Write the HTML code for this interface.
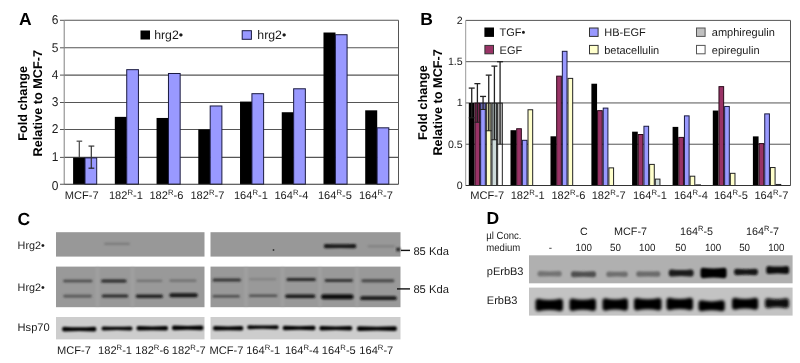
<!DOCTYPE html>
<html><head><meta charset="utf-8"><style>
html,body{margin:0;padding:0;background:#fff;}
svg{display:block;font-family:"Liberation Sans", sans-serif;}
text{opacity:0.999;text-rendering:geometricPrecision;}
</style></head><body>
<svg width="800" height="363" viewBox="0 0 800 363">
<defs>
<filter id="bb" x="-20%" y="-200%" width="140%" height="500%"><feGaussianBlur stdDeviation="0.9"/></filter>
<filter id="bb2" x="-20%" y="-100%" width="140%" height="300%"><feGaussianBlur stdDeviation="1.2"/></filter>
<filter id="bb3" x="-20%" y="-100%" width="140%" height="300%"><feGaussianBlur stdDeviation="1.6"/></filter>
<filter id="bl1" x="-5%" y="-5%" width="110%" height="110%"><feGaussianBlur stdDeviation="0.4"/></filter>
</defs>
<rect width="800" height="363" fill="#fff"/>
<text x="19.00" y="25.20" font-size="17.5" text-anchor="start" font-weight="bold" fill="#000" >A</text>
<line x1="64.20" y1="157.40" x2="398.50" y2="157.40" stroke="#555" stroke-width="1.1"/>
<line x1="60.00" y1="157.40" x2="64.20" y2="157.40" stroke="#555" stroke-width="1"/>
<line x1="64.20" y1="129.50" x2="398.50" y2="129.50" stroke="#555" stroke-width="1.1"/>
<line x1="60.00" y1="129.50" x2="64.20" y2="129.50" stroke="#555" stroke-width="1"/>
<line x1="64.20" y1="102.50" x2="398.50" y2="102.50" stroke="#555" stroke-width="1.1"/>
<line x1="60.00" y1="102.50" x2="64.20" y2="102.50" stroke="#555" stroke-width="1"/>
<line x1="64.20" y1="75.10" x2="398.50" y2="75.10" stroke="#555" stroke-width="1.1"/>
<line x1="60.00" y1="75.10" x2="64.20" y2="75.10" stroke="#555" stroke-width="1"/>
<line x1="64.20" y1="47.80" x2="398.50" y2="47.80" stroke="#555" stroke-width="1.1"/>
<line x1="60.00" y1="47.80" x2="64.20" y2="47.80" stroke="#555" stroke-width="1"/>
<line x1="64.20" y1="20.30" x2="398.50" y2="20.30" stroke="#555" stroke-width="1.1"/>
<line x1="60.00" y1="20.30" x2="64.20" y2="20.30" stroke="#555" stroke-width="1"/>
<line x1="60.00" y1="184.25" x2="64.20" y2="184.25" stroke="#555" stroke-width="1"/>
<line x1="398.50" y1="20.30" x2="398.50" y2="184.25" stroke="#555" stroke-width="1"/>
<text x="58.30" y="189.85" font-size="12.8" text-anchor="end" font-weight="normal" fill="#1a1a1a" textLength="6.67" lengthAdjust="spacingAndGlyphs">0</text>
<text x="58.30" y="161.20" font-size="12.8" text-anchor="end" font-weight="normal" fill="#1a1a1a" textLength="6.67" lengthAdjust="spacingAndGlyphs">1</text>
<text x="58.30" y="133.30" font-size="12.8" text-anchor="end" font-weight="normal" fill="#1a1a1a" textLength="6.67" lengthAdjust="spacingAndGlyphs">2</text>
<text x="58.30" y="106.30" font-size="12.8" text-anchor="end" font-weight="normal" fill="#1a1a1a" textLength="6.67" lengthAdjust="spacingAndGlyphs">3</text>
<text x="58.30" y="78.90" font-size="12.8" text-anchor="end" font-weight="normal" fill="#1a1a1a" textLength="6.67" lengthAdjust="spacingAndGlyphs">4</text>
<text x="58.30" y="51.60" font-size="12.8" text-anchor="end" font-weight="normal" fill="#1a1a1a" textLength="6.67" lengthAdjust="spacingAndGlyphs">5</text>
<text x="58.30" y="24.10" font-size="12.8" text-anchor="end" font-weight="normal" fill="#1a1a1a" textLength="6.67" lengthAdjust="spacingAndGlyphs">6</text>
<rect x="140.50" y="30.50" width="9.50" height="9.00" fill="#000" />
<text x="154.20" y="39.40" font-size="12.3" text-anchor="start" font-weight="normal" fill="#1a1a1a" >hrg2•</text>
<rect x="242.20" y="30.70" width="9.20" height="8.60" fill="#9999ff" stroke="#1a1a40" stroke-width="1" />
<text x="257.30" y="39.40" font-size="12.3" text-anchor="start" font-weight="normal" fill="#1a1a1a" >hrg2•</text>
<rect x="73.10" y="157.60" width="12.00" height="26.65" fill="#000" />
<rect x="85.00" y="157.90" width="11.70" height="26.35" fill="#9999ff" stroke="#1a1a40" stroke-width="1" />
<rect x="114.83" y="116.87" width="12.00" height="67.38" fill="#000" />
<rect x="126.73" y="69.67" width="11.70" height="114.58" fill="#9999ff" stroke="#1a1a40" stroke-width="1" />
<rect x="156.56" y="117.96" width="12.00" height="66.29" fill="#000" />
<rect x="168.46" y="73.49" width="11.70" height="110.76" fill="#9999ff" stroke="#1a1a40" stroke-width="1" />
<rect x="198.29" y="129.43" width="12.00" height="54.82" fill="#000" />
<rect x="210.19" y="105.98" width="11.70" height="78.27" fill="#9999ff" stroke="#1a1a40" stroke-width="1" />
<rect x="240.02" y="101.58" width="12.00" height="82.67" fill="#000" />
<rect x="251.92" y="93.69" width="11.70" height="90.56" fill="#9999ff" stroke="#1a1a40" stroke-width="1" />
<rect x="281.75" y="112.23" width="12.00" height="72.02" fill="#000" />
<rect x="293.65" y="88.78" width="11.70" height="95.47" fill="#9999ff" stroke="#1a1a40" stroke-width="1" />
<rect x="323.48" y="32.51" width="12.00" height="151.74" fill="#000" />
<rect x="335.38" y="34.72" width="11.70" height="149.53" fill="#9999ff" stroke="#1a1a40" stroke-width="1" />
<rect x="365.21" y="110.32" width="12.00" height="73.93" fill="#000" />
<rect x="377.11" y="127.82" width="11.70" height="56.43" fill="#9999ff" stroke="#1a1a40" stroke-width="1" />
<line x1="79.30" y1="141.17" x2="79.30" y2="157.00" stroke="#444" stroke-width="1.2"/>
<line x1="76.60" y1="141.17" x2="82.20" y2="141.17" stroke="#444" stroke-width="1.2"/>
<line x1="91.30" y1="146.08" x2="91.30" y2="168.19" stroke="#333" stroke-width="1.2"/>
<line x1="88.50" y1="146.08" x2="94.30" y2="146.08" stroke="#333" stroke-width="1.2"/>
<line x1="88.50" y1="168.19" x2="94.30" y2="168.19" stroke="#222" stroke-width="1.2"/>
<line x1="64.20" y1="20.30" x2="64.20" y2="184.25" stroke="#808080" stroke-width="1"/>
<line x1="64.20" y1="184.25" x2="398.50" y2="184.25" stroke="#333" stroke-width="1"/>
<text transform="translate(27.0,103.4) rotate(-90)" font-size="12.7" font-weight="bold" text-anchor="middle" fill="#000">Fold change</text>
<text transform="translate(41.8,103.2) rotate(-90)" font-size="12.7" font-weight="bold" text-anchor="middle" fill="#000">Relative to MCF-7</text>
<text x="64.80" y="199.00" font-size="11.1" text-anchor="start" font-weight="normal" fill="#1a1a1a" >MCF-7</text>
<text x="108.95" y="199.00" font-size="11.1" text-anchor="start" font-weight="normal" fill="#1a1a1a" >182<tspan font-size="7.7" dy="-4">R</tspan><tspan dy="4">-1</tspan></text>
<text x="149.45" y="199.00" font-size="11.1" text-anchor="start" font-weight="normal" fill="#1a1a1a" >182<tspan font-size="7.7" dy="-4">R</tspan><tspan dy="4">-6</tspan></text>
<text x="190.45" y="199.00" font-size="11.1" text-anchor="start" font-weight="normal" fill="#1a1a1a" >182<tspan font-size="7.7" dy="-4">R</tspan><tspan dy="4">-7</tspan></text>
<text x="233.95" y="199.00" font-size="11.1" text-anchor="start" font-weight="normal" fill="#1a1a1a" >164<tspan font-size="7.7" dy="-4">R</tspan><tspan dy="4">-1</tspan></text>
<text x="274.45" y="199.00" font-size="11.1" text-anchor="start" font-weight="normal" fill="#1a1a1a" >164<tspan font-size="7.7" dy="-4">R</tspan><tspan dy="4">-4</tspan></text>
<text x="317.95" y="199.00" font-size="11.1" text-anchor="start" font-weight="normal" fill="#1a1a1a" >164<tspan font-size="7.7" dy="-4">R</tspan><tspan dy="4">-5</tspan></text>
<text x="358.95" y="199.00" font-size="11.1" text-anchor="start" font-weight="normal" fill="#1a1a1a" >164<tspan font-size="7.7" dy="-4">R</tspan><tspan dy="4">-7</tspan></text>
<text x="420.30" y="25.20" font-size="17.5" text-anchor="start" font-weight="bold" fill="#000" >B</text>
<line x1="465.70" y1="144.22" x2="790.50" y2="144.22" stroke="#555" stroke-width="1"/>
<line x1="465.70" y1="102.95" x2="790.50" y2="102.95" stroke="#555" stroke-width="1"/>
<line x1="465.70" y1="61.68" x2="790.50" y2="61.68" stroke="#555" stroke-width="1"/>
<line x1="465.70" y1="20.40" x2="790.50" y2="20.40" stroke="#555" stroke-width="1"/>
<line x1="790.50" y1="20.40" x2="790.50" y2="185.50" stroke="#555" stroke-width="1"/>
<text x="462.70" y="188.80" font-size="10.6" text-anchor="end" font-weight="normal" fill="#1a1a1a" >0</text>
<text x="462.70" y="147.53" font-size="10.6" text-anchor="end" font-weight="normal" fill="#1a1a1a" >0.5</text>
<text x="462.70" y="106.25" font-size="10.6" text-anchor="end" font-weight="normal" fill="#1a1a1a" >1</text>
<text x="462.70" y="64.98" font-size="10.6" text-anchor="end" font-weight="normal" fill="#1a1a1a" >1.5</text>
<text x="462.70" y="23.70" font-size="10.6" text-anchor="end" font-weight="normal" fill="#1a1a1a" >2</text>
<rect x="484.40" y="27.50" width="9.60" height="9.40" fill="#000" />
<text x="499.60" y="36.10" font-size="11" text-anchor="start" font-weight="normal" fill="#1a1a1a" >TGF•</text>
<rect x="484.90" y="45.40" width="8.60" height="8.40" fill="#993366" stroke="#333" stroke-width="1" />
<text x="499.60" y="53.50" font-size="11" text-anchor="start" font-weight="normal" fill="#1a1a1a" >EGF</text>
<rect x="589.50" y="28.00" width="8.60" height="8.40" fill="#9999ff" stroke="#333" stroke-width="1" />
<text x="604.20" y="36.10" font-size="11" text-anchor="start" font-weight="normal" fill="#1a1a1a" >HB-EGF</text>
<rect x="589.50" y="45.40" width="8.60" height="8.40" fill="#ffffcc" stroke="#333" stroke-width="1" />
<text x="604.20" y="53.50" font-size="11" text-anchor="start" font-weight="normal" fill="#1a1a1a" >betacellulin</text>
<rect x="696.50" y="28.00" width="8.60" height="8.40" fill="#c0c0c0" stroke="#555" stroke-width="1" />
<text x="711.80" y="36.10" font-size="11" text-anchor="start" font-weight="normal" fill="#1a1a1a" >amphiregulin</text>
<rect x="696.50" y="45.40" width="8.60" height="8.40" fill="#ffffff" stroke="#555" stroke-width="1" />
<text x="711.80" y="53.50" font-size="11" text-anchor="start" font-weight="normal" fill="#1a1a1a" >epiregulin</text>
<rect x="468.80" y="102.95" width="5.67" height="82.55" fill="#000" />
<rect x="474.97" y="103.15" width="4.67" height="82.35" fill="#993366" stroke="#2a0a1a" stroke-width="1" />
<rect x="480.64" y="103.15" width="4.67" height="82.35" fill="#9999ff" stroke="#1a1a40" stroke-width="1" />
<rect x="486.31" y="103.15" width="4.67" height="82.35" fill="#ffffcc" stroke="#222" stroke-width="1" />
<rect x="491.98" y="103.15" width="4.67" height="82.35" fill="#cddada" stroke="#222" stroke-width="1" />
<rect x="497.65" y="103.15" width="4.67" height="82.35" fill="#ffffff" stroke="#222" stroke-width="1" />
<rect x="510.50" y="130.19" width="5.67" height="55.31" fill="#000" />
<rect x="516.67" y="128.74" width="4.67" height="56.76" fill="#993366" stroke="#2a0a1a" stroke-width="1" />
<rect x="522.34" y="140.30" width="4.67" height="45.20" fill="#9999ff" stroke="#1a1a40" stroke-width="1" />
<rect x="528.01" y="109.75" width="4.67" height="75.75" fill="#ffffcc" stroke="#222" stroke-width="1" />
<rect x="550.50" y="136.30" width="5.67" height="49.20" fill="#000" />
<rect x="556.67" y="76.16" width="4.67" height="109.34" fill="#993366" stroke="#2a0a1a" stroke-width="1" />
<rect x="562.34" y="51.31" width="4.67" height="134.19" fill="#9999ff" stroke="#1a1a40" stroke-width="1" />
<rect x="568.01" y="78.39" width="4.67" height="107.11" fill="#ffffcc" stroke="#222" stroke-width="1" />
<rect x="591.40" y="83.72" width="5.67" height="101.78" fill="#000" />
<rect x="597.57" y="110.66" width="4.67" height="74.84" fill="#993366" stroke="#2a0a1a" stroke-width="1" />
<rect x="603.24" y="108.10" width="4.67" height="77.40" fill="#9999ff" stroke="#1a1a40" stroke-width="1" />
<rect x="608.91" y="167.87" width="4.67" height="17.63" fill="#ffffcc" stroke="#222" stroke-width="1" />
<rect x="632.10" y="131.68" width="5.67" height="53.82" fill="#000" />
<rect x="638.27" y="134.52" width="4.67" height="50.98" fill="#993366" stroke="#2a0a1a" stroke-width="1" />
<rect x="643.94" y="126.26" width="4.67" height="59.24" fill="#9999ff" stroke="#1a1a40" stroke-width="1" />
<rect x="649.61" y="164.40" width="4.67" height="21.10" fill="#ffffcc" stroke="#222" stroke-width="1" />
<rect x="655.28" y="179.10" width="4.67" height="6.40" fill="#cddada" stroke="#222" stroke-width="1" />
<rect x="672.60" y="126.89" width="5.67" height="58.61" fill="#000" />
<rect x="678.77" y="137.41" width="4.67" height="48.09" fill="#993366" stroke="#2a0a1a" stroke-width="1" />
<rect x="684.44" y="115.86" width="4.67" height="69.64" fill="#9999ff" stroke="#1a1a40" stroke-width="1" />
<rect x="690.11" y="176.21" width="4.67" height="9.29" fill="#ffffcc" stroke="#222" stroke-width="1" />
<rect x="695.78" y="184.87" width="4.67" height="0.63" fill="#cddada" stroke="#222" stroke-width="1" />
<rect x="712.80" y="110.54" width="5.67" height="74.96" fill="#000" />
<rect x="718.97" y="86.64" width="4.67" height="98.86" fill="#993366" stroke="#2a0a1a" stroke-width="1" />
<rect x="724.64" y="106.45" width="4.67" height="79.05" fill="#9999ff" stroke="#1a1a40" stroke-width="1" />
<rect x="730.31" y="173.32" width="4.67" height="12.18" fill="#ffffcc" stroke="#222" stroke-width="1" />
<rect x="752.90" y="136.38" width="5.67" height="49.12" fill="#000" />
<rect x="759.07" y="143.60" width="4.67" height="41.90" fill="#993366" stroke="#2a0a1a" stroke-width="1" />
<rect x="764.74" y="113.88" width="4.67" height="71.62" fill="#9999ff" stroke="#1a1a40" stroke-width="1" />
<rect x="770.41" y="167.54" width="4.67" height="17.96" fill="#ffffcc" stroke="#222" stroke-width="1" />
<rect x="776.08" y="184.46" width="4.67" height="1.04" fill="#cddada" stroke="#222" stroke-width="1" />
<line x1="471.73" y1="88.09" x2="471.73" y2="117.81" stroke="#222" stroke-width="1.3"/>
<line x1="468.73" y1="88.09" x2="474.73" y2="88.09" stroke="#222" stroke-width="1.3"/>
<line x1="468.73" y1="117.81" x2="474.73" y2="117.81" stroke="#222" stroke-width="1.0"/>
<rect x="475.07" y="102.95" width="4.67" height="19.32" fill="#000" opacity="0.22"/>
<line x1="477.40" y1="83.63" x2="477.40" y2="122.27" stroke="#222" stroke-width="1.3"/>
<line x1="474.40" y1="83.63" x2="480.40" y2="83.63" stroke="#222" stroke-width="1.3"/>
<line x1="474.40" y1="122.27" x2="480.40" y2="122.27" stroke="#222" stroke-width="1.0"/>
<rect x="480.74" y="102.95" width="4.67" height="6.52" fill="#000" opacity="0.22"/>
<line x1="483.07" y1="96.43" x2="483.07" y2="109.47" stroke="#222" stroke-width="1.3"/>
<line x1="480.07" y1="96.43" x2="486.07" y2="96.43" stroke="#222" stroke-width="1.3"/>
<line x1="480.07" y1="109.47" x2="486.07" y2="109.47" stroke="#222" stroke-width="1.0"/>
<rect x="486.41" y="102.95" width="4.67" height="27.82" fill="#000" opacity="0.22"/>
<line x1="488.74" y1="75.13" x2="488.74" y2="130.77" stroke="#222" stroke-width="1.3"/>
<line x1="485.74" y1="75.13" x2="491.74" y2="75.13" stroke="#222" stroke-width="1.3"/>
<line x1="485.74" y1="130.77" x2="491.74" y2="130.77" stroke="#222" stroke-width="1.0"/>
<rect x="492.08" y="102.95" width="4.67" height="36.82" fill="#000" opacity="0.22"/>
<line x1="494.41" y1="66.13" x2="494.41" y2="139.77" stroke="#222" stroke-width="1.3"/>
<line x1="491.41" y1="66.13" x2="497.41" y2="66.13" stroke="#222" stroke-width="1.3"/>
<line x1="491.41" y1="139.77" x2="497.41" y2="139.77" stroke="#222" stroke-width="1.0"/>
<rect x="497.75" y="102.95" width="4.67" height="41.27" fill="#000" opacity="0.22"/>
<line x1="500.08" y1="61.68" x2="500.08" y2="144.22" stroke="#222" stroke-width="1.3"/>
<line x1="497.08" y1="61.68" x2="503.08" y2="61.68" stroke="#222" stroke-width="1.3"/>
<line x1="497.08" y1="144.22" x2="503.08" y2="144.22" stroke="#222" stroke-width="1.0"/>
<line x1="465.70" y1="20.40" x2="465.70" y2="185.50" stroke="#999" stroke-width="1"/>
<line x1="465.70" y1="185.50" x2="790.50" y2="185.50" stroke="#333" stroke-width="1"/>
<text transform="translate(426.5,102.6) rotate(-90)" font-size="12.7" font-weight="bold" text-anchor="middle" fill="#000">Fold change</text>
<text transform="translate(441.5,102.4) rotate(-90)" font-size="12.7" font-weight="bold" text-anchor="middle" fill="#000">Relative to MCF-7</text>
<text x="470.20" y="198.80" font-size="11.1" text-anchor="start" font-weight="normal" fill="#1a1a1a" >MCF-7</text>
<text x="510.70" y="198.80" font-size="11.1" text-anchor="start" font-weight="normal" fill="#1a1a1a" >182<tspan font-size="7.7" dy="-4">R</tspan><tspan dy="4">-1</tspan></text>
<text x="551.45" y="198.80" font-size="11.1" text-anchor="start" font-weight="normal" fill="#1a1a1a" >182<tspan font-size="7.7" dy="-4">R</tspan><tspan dy="4">-6</tspan></text>
<text x="591.70" y="198.80" font-size="11.1" text-anchor="start" font-weight="normal" fill="#1a1a1a" >182<tspan font-size="7.7" dy="-4">R</tspan><tspan dy="4">-7</tspan></text>
<text x="632.95" y="198.80" font-size="11.1" text-anchor="start" font-weight="normal" fill="#1a1a1a" >164<tspan font-size="7.7" dy="-4">R</tspan><tspan dy="4">-1</tspan></text>
<text x="673.95" y="198.80" font-size="11.1" text-anchor="start" font-weight="normal" fill="#1a1a1a" >164<tspan font-size="7.7" dy="-4">R</tspan><tspan dy="4">-4</tspan></text>
<text x="713.95" y="198.80" font-size="11.1" text-anchor="start" font-weight="normal" fill="#1a1a1a" >164<tspan font-size="7.7" dy="-4">R</tspan><tspan dy="4">-5</tspan></text>
<text x="754.45" y="198.80" font-size="11.1" text-anchor="start" font-weight="normal" fill="#1a1a1a" >164<tspan font-size="7.7" dy="-4">R</tspan><tspan dy="4">-7</tspan></text>
<text x="17.60" y="224.50" font-size="17.5" text-anchor="start" font-weight="bold" fill="#000" >C</text>
<text x="17.60" y="248.60" font-size="10.8" text-anchor="start" font-weight="normal" fill="#1a1a1a" >Hrg2•</text>
<text x="17.60" y="291.00" font-size="10.8" text-anchor="start" font-weight="normal" fill="#1a1a1a" >Hrg2•</text>
<text x="17.60" y="331.20" font-size="11.1" text-anchor="start" font-weight="normal" fill="#1a1a1a" >Hsp70</text>
<g filter="url(#bl1)">
<rect x="56.00" y="232.20" width="148.50" height="24.40" fill="#989898" />
<rect x="56.00" y="266.60" width="148.50" height="40.60" fill="#999999" />
<rect x="56.00" y="317.00" width="148.50" height="22.40" fill="#cdcdcd" />
<rect x="210.50" y="232.20" width="190.00" height="24.40" fill="#989898" />
<rect x="210.50" y="266.60" width="190.00" height="40.60" fill="#999999" />
<rect x="210.50" y="317.00" width="190.00" height="22.40" fill="#cdcdcd" />
</g>
<rect x="95.7" y="266.8" width="3.6" height="40.2" fill="#b0b0b0" opacity="0.3" filter="url(#bb)"/>
<rect x="244.2" y="266.8" width="3.6" height="40.2" fill="#b0b0b0" opacity="0.3" filter="url(#bb)"/>
<rect x="280.7" y="266.8" width="3.6" height="40.2" fill="#b0b0b0" opacity="0.3" filter="url(#bb)"/>
<rect x="318.2" y="266.8" width="3.6" height="40.2" fill="#b0b0b0" opacity="0.3" filter="url(#bb)"/>
<rect x="355.2" y="266.8" width="3.6" height="40.2" fill="#b0b0b0" opacity="0.3" filter="url(#bb)"/>
<rect x="130.7" y="266.8" width="3.6" height="40.2" fill="#b0b0b0" opacity="0.3" filter="url(#bb)"/>
<rect x="104.0" y="242.7" width="26.0" height="2.2" rx="1.1" fill="#7a7a7a" opacity="1" filter="url(#bb)"/>
<path d="M325.8,243.9 Q340.1,244.6 354.3,243.9 Q356.3,243.9 356.3,245.9 L356.3,246.3 Q356.3,248.3 354.3,248.3 Q340.1,247.6 325.8,248.3 Q323.8,248.3 323.8,246.3 L323.8,245.9 Q323.8,243.9 325.8,243.9 Z" fill="#151515" opacity="1.0" filter="url(#bb)"/>
<rect x="367.5" y="244.9" width="27.5" height="2.6" rx="1.3" fill="#838383" opacity="1" filter="url(#bb)"/>
<circle cx="273.5" cy="250" r="0.9" fill="#333"/>
<rect x="396.0" y="247.4" width="4.4" height="4.0" rx="2.0" fill="#262626" opacity="1" filter="url(#bb)"/>
<rect x="63.2" y="279.7" width="29.3" height="2.6" rx="1.3" fill="#474747" opacity="1.0" filter="url(#bb)"/>
<rect x="101.1" y="279.5" width="25.5" height="3.0" rx="1.5" fill="#262626" opacity="1.0" filter="url(#bb)"/>
<rect x="136.4" y="279.7" width="26.0" height="2.2" rx="1.1" fill="#707070" opacity="1.0" filter="url(#bb)"/>
<rect x="169.4" y="279.6" width="27.1" height="2.2" rx="1.1" fill="#6c6c6c" opacity="1.0" filter="url(#bb)"/>
<rect x="212.6" y="278.6" width="28.4" height="3.0" rx="1.5" fill="#303030" opacity="1.0" filter="url(#bb)"/>
<rect x="249.0" y="278.3" width="27.3" height="2.0" rx="1.0" fill="#808080" opacity="1.0" filter="url(#bb)"/>
<rect x="286.4" y="278.0" width="29.5" height="3.0" rx="1.5" fill="#262626" opacity="1.0" filter="url(#bb)"/>
<rect x="324.6" y="279.1" width="28.3" height="2.8" rx="1.4" fill="#333" opacity="1.0" filter="url(#bb)"/>
<rect x="361.4" y="279.3" width="33.0" height="3.0" rx="1.5" fill="#444" opacity="1.0" filter="url(#bb)"/>
<rect x="63.2" y="294.8" width="28.7" height="2.6" rx="1.3" fill="#555" opacity="1.0" filter="url(#bb)"/>
<rect x="101.7" y="294.4" width="26.6" height="3.0" rx="1.5" fill="#282828" opacity="1.0" filter="url(#bb)"/>
<rect x="135.8" y="294.4" width="27.2" height="3.5" rx="1.8" fill="#202020" opacity="1.0" filter="url(#bb)"/>
<rect x="169.4" y="293.3" width="28.3" height="4.0" rx="2.0" fill="#141414" opacity="1.0" filter="url(#bb)"/>
<rect x="212.6" y="295.1" width="27.2" height="2.5" rx="1.2" fill="#4a4a4a" opacity="1.0" filter="url(#bb)"/>
<rect x="249.0" y="294.6" width="28.4" height="2.5" rx="1.2" fill="#505050" opacity="1.0" filter="url(#bb)"/>
<rect x="285.2" y="294.4" width="30.1" height="3.5" rx="1.8" fill="#161616" opacity="1.0" filter="url(#bb)"/>
<rect x="321.1" y="294.2" width="32.4" height="5.0" rx="2.5" fill="#0c0c0c" opacity="1.0" filter="url(#bb)"/>
<rect x="360.3" y="296.3" width="36.4" height="3.8" rx="1.9" fill="#141414" opacity="1.0" filter="url(#bb)"/>
<path d="M64.1,326.8 Q79.2,327.8 94.3,326.8 Q96.3,326.8 96.3,328.8 L96.3,329.6 Q96.3,331.6 94.3,331.6 Q79.2,330.6 64.1,331.6 Q62.1,331.6 62.1,329.6 L62.1,328.8 Q62.1,326.8 64.1,326.8 Z" fill="#000" opacity="1.0" filter="url(#bb)"/>
<path d="M103.5,326.4 Q117.0,327.2 130.5,326.4 Q132.5,326.4 132.5,328.4 L132.5,328.4 Q132.5,330.4 130.5,330.4 Q117.0,329.6 103.5,330.4 Q101.5,330.4 101.5,328.4 L101.5,328.4 Q101.5,326.4 103.5,326.4 Z" fill="#000" opacity="1.0" filter="url(#bb)"/>
<path d="M138.5,326.0 Q152.2,326.9 166.0,326.0 Q168.0,326.0 168.0,328.0 L168.0,328.6 Q168.0,330.6 166.0,330.6 Q152.2,329.7 138.5,330.6 Q136.5,330.6 136.5,328.6 L136.5,328.0 Q136.5,326.0 138.5,326.0 Z" fill="#000" opacity="1.0" filter="url(#bb)"/>
<path d="M174.0,325.6 Q187.7,326.5 201.4,325.6 Q203.4,325.6 203.4,327.6 L203.4,328.2 Q203.4,330.2 201.4,330.2 Q187.7,329.3 174.0,330.2 Q172.0,330.2 172.0,328.2 L172.0,327.6 Q172.0,325.6 174.0,325.6 Z" fill="#000" opacity="1.0" filter="url(#bb)"/>
<path d="M215.0,326.0 Q228.2,326.9 241.3,326.0 Q243.3,326.0 243.3,328.0 L243.3,328.6 Q243.3,330.6 241.3,330.6 Q228.2,329.7 215.0,330.6 Q213.0,330.6 213.0,328.6 L213.0,328.0 Q213.0,326.0 215.0,326.0 Z" fill="#000" opacity="1.0" filter="url(#bb)"/>
<path d="M249.2,325.2 Q262.9,326.0 276.7,325.2 Q278.7,325.2 278.7,327.2 L278.7,327.2 Q278.7,329.2 276.7,329.2 Q262.9,328.4 249.2,329.2 Q247.2,329.2 247.2,327.2 L247.2,327.2 Q247.2,325.2 249.2,325.2 Z" fill="#000" opacity="1.0" filter="url(#bb)"/>
<path d="M284.7,325.8 Q299.1,326.7 313.5,325.8 Q315.5,325.8 315.5,327.8 L315.5,328.2 Q315.5,330.2 313.5,330.2 Q299.1,329.3 284.7,330.2 Q282.7,330.2 282.7,328.2 L282.7,327.8 Q282.7,325.8 284.7,325.8 Z" fill="#000" opacity="1.0" filter="url(#bb)"/>
<path d="M321.4,326.1 Q335.8,327.0 350.2,326.1 Q352.2,326.1 352.2,328.1 L352.2,328.5 Q352.2,330.5 350.2,330.5 Q335.8,329.6 321.4,330.5 Q319.4,330.5 319.4,328.5 L319.4,328.1 Q319.4,326.1 321.4,326.1 Z" fill="#000" opacity="1.0" filter="url(#bb)"/>
<path d="M359.0,326.3 Q376.9,327.2 394.9,326.3 Q396.9,326.3 396.9,328.3 L396.9,328.9 Q396.9,330.9 394.9,330.9 Q376.9,330.0 359.0,330.9 Q357.0,330.9 357.0,328.9 L357.0,328.3 Q357.0,326.3 359.0,326.3 Z" fill="#000" opacity="1.0" filter="url(#bb)"/>
<line x1="401.00" y1="250.40" x2="410.00" y2="250.40" stroke="#111" stroke-width="1.4"/>
<line x1="397.00" y1="288.90" x2="410.00" y2="288.90" stroke="#111" stroke-width="1.4"/>
<text x="413.40" y="254.50" font-size="11.2" text-anchor="start" font-weight="normal" fill="#1a1a1a" >85 Kda</text>
<text x="413.40" y="293.10" font-size="11.2" text-anchor="start" font-weight="normal" fill="#1a1a1a" >85 Kda</text>
<text x="57.05" y="353.80" font-size="11.1" text-anchor="start" font-weight="normal" fill="#1a1a1a" >MCF-7</text>
<text x="98.05" y="353.80" font-size="11.1" text-anchor="start" font-weight="normal" fill="#1a1a1a" >182<tspan font-size="7.7" dy="-4">R</tspan><tspan dy="4">-1</tspan></text>
<text x="135.30" y="353.80" font-size="11.1" text-anchor="start" font-weight="normal" fill="#1a1a1a" >182<tspan font-size="7.7" dy="-4">R</tspan><tspan dy="4">-6</tspan></text>
<text x="171.80" y="353.80" font-size="11.1" text-anchor="start" font-weight="normal" fill="#1a1a1a" >182<tspan font-size="7.7" dy="-4">R</tspan><tspan dy="4">-7</tspan></text>
<text x="209.55" y="353.80" font-size="11.1" text-anchor="start" font-weight="normal" fill="#1a1a1a" >MCF-7</text>
<text x="246.20" y="353.80" font-size="11.1" text-anchor="start" font-weight="normal" fill="#1a1a1a" >164<tspan font-size="7.7" dy="-4">R</tspan><tspan dy="4">-1</tspan></text>
<text x="284.90" y="353.80" font-size="11.1" text-anchor="start" font-weight="normal" fill="#1a1a1a" >164<tspan font-size="7.7" dy="-4">R</tspan><tspan dy="4">-4</tspan></text>
<text x="321.80" y="353.80" font-size="11.1" text-anchor="start" font-weight="normal" fill="#1a1a1a" >164<tspan font-size="7.7" dy="-4">R</tspan><tspan dy="4">-5</tspan></text>
<text x="359.30" y="353.80" font-size="11.1" text-anchor="start" font-weight="normal" fill="#1a1a1a" >164<tspan font-size="7.7" dy="-4">R</tspan><tspan dy="4">-7</tspan></text>
<text x="486.60" y="223.70" font-size="17.5" text-anchor="start" font-weight="bold" fill="#000" >D</text>
<text x="486.30" y="239.30" font-size="10.4" text-anchor="start" font-weight="normal" fill="#1a1a1a" textLength="35.2" lengthAdjust="spacingAndGlyphs">µl Conc.</text>
<text x="486.30" y="251.00" font-size="10.4" text-anchor="start" font-weight="normal" fill="#1a1a1a" textLength="34.0" lengthAdjust="spacingAndGlyphs">medium</text>
<text x="583.90" y="235.00" font-size="10.6" text-anchor="middle" font-weight="normal" fill="#1a1a1a" >C</text>
<text x="630.50" y="234.80" font-size="10.8" text-anchor="middle" font-weight="normal" fill="#1a1a1a" >MCF-7</text>
<text x="696.60" y="234.80" font-size="10.8" text-anchor="middle" font-weight="normal" fill="#1a1a1a" >164<tspan font-size="7.5" dy="-4">R</tspan><tspan dy="4">-5</tspan></text>
<text x="762.60" y="234.80" font-size="10.8" text-anchor="middle" font-weight="normal" fill="#1a1a1a" >164<tspan font-size="7.5" dy="-4">R</tspan><tspan dy="4">-7</tspan></text>
<text x="550.30" y="250.80" font-size="10.4" text-anchor="middle" font-weight="normal" fill="#1a1a1a" textLength="3.3" lengthAdjust="spacingAndGlyphs">-</text>
<text x="583.70" y="250.80" font-size="10.4" text-anchor="middle" font-weight="normal" fill="#1a1a1a" textLength="16.35" lengthAdjust="spacingAndGlyphs">100</text>
<text x="615.50" y="250.80" font-size="10.4" text-anchor="middle" font-weight="normal" fill="#1a1a1a" textLength="10.9" lengthAdjust="spacingAndGlyphs">50</text>
<text x="647.20" y="250.80" font-size="10.4" text-anchor="middle" font-weight="normal" fill="#1a1a1a" textLength="16.35" lengthAdjust="spacingAndGlyphs">100</text>
<text x="680.80" y="250.80" font-size="10.4" text-anchor="middle" font-weight="normal" fill="#1a1a1a" textLength="10.9" lengthAdjust="spacingAndGlyphs">50</text>
<text x="713.10" y="250.80" font-size="10.4" text-anchor="middle" font-weight="normal" fill="#1a1a1a" textLength="16.35" lengthAdjust="spacingAndGlyphs">100</text>
<text x="744.60" y="250.80" font-size="10.4" text-anchor="middle" font-weight="normal" fill="#1a1a1a" textLength="10.9" lengthAdjust="spacingAndGlyphs">50</text>
<text x="776.30" y="250.80" font-size="10.4" text-anchor="middle" font-weight="normal" fill="#1a1a1a" textLength="16.35" lengthAdjust="spacingAndGlyphs">100</text>
<text x="486.80" y="275.00" font-size="11" text-anchor="start" font-weight="normal" fill="#1a1a1a" >pErbB3</text>
<text x="486.80" y="303.60" font-size="11" text-anchor="start" font-weight="normal" fill="#1a1a1a" >ErbB3</text>
<rect x="529.00" y="255.30" width="263.60" height="28.00" fill="#b0b0b0" />
<rect x="529.00" y="287.60" width="263.60" height="28.00" fill="#c3c3c3" />
<path d="M540.0,271.0 Q549.6,271.8 559.2,271.0 Q561.7,271.0 561.7,273.5 L561.7,274.1 Q561.7,276.6 559.2,276.6 Q549.6,275.8 540.0,276.6 Q537.5,276.6 537.5,274.1 L537.5,273.5 Q537.5,271.0 540.0,271.0 Z" fill="#737373" opacity="1.0" filter="url(#bb2)"/>
<path d="M573.5,271.3 Q583.5,272.2 593.5,271.3 Q596.0,271.3 596.0,273.8 L596.0,274.8 Q596.0,277.3 593.5,277.3 Q583.5,276.4 573.5,277.3 Q571.0,277.3 571.0,274.8 L571.0,273.8 Q571.0,271.3 573.5,271.3 Z" fill="#505050" opacity="1.0" filter="url(#bb2)"/>
<path d="M608.8,271.4 Q617.0,272.2 625.3,271.4 Q627.8,271.4 627.8,273.9 L627.8,274.5 Q627.8,277.0 625.3,277.0 Q617.0,276.2 608.8,277.0 Q606.3,277.0 606.3,274.5 L606.3,273.9 Q606.3,271.4 608.8,271.4 Z" fill="#6e6e6e" opacity="1.0" filter="url(#bb2)"/>
<path d="M638.7,271.2 Q648.3,272.0 657.9,271.2 Q660.4,271.2 660.4,273.7 L660.4,274.3 Q660.4,276.8 657.9,276.8 Q648.3,276.0 638.7,276.8 Q636.2,276.8 636.2,274.3 L636.2,273.7 Q636.2,271.2 638.7,271.2 Z" fill="#6a6a6a" opacity="1.0" filter="url(#bb2)"/>
<path d="M671.3,269.5 Q681.1,270.6 691.0,269.5 Q693.5,269.5 693.5,272.0 L693.5,274.0 Q693.5,276.5 691.0,276.5 Q681.1,275.4 671.3,276.5 Q668.8,276.5 668.8,274.0 L668.8,272.0 Q668.8,269.5 671.3,269.5 Z" fill="#1c1c1c" opacity="1.0" filter="url(#bb2)"/>
<path d="M703.0,267.8 Q713.5,269.3 724.1,267.8 Q726.6,267.8 726.6,270.2 L726.6,275.8 Q726.6,278.2 724.1,278.2 Q713.5,276.7 703.0,278.2 Q700.5,278.2 700.5,275.8 L700.5,270.2 Q700.5,267.8 703.0,267.8 Z" fill="#060606" opacity="1.0" filter="url(#bb2)"/>
<path d="M736.6,268.8 Q746.0,269.7 755.4,268.8 Q757.9,268.8 757.9,271.2 L757.9,272.8 Q757.9,275.2 755.4,275.2 Q746.0,274.3 736.6,275.2 Q734.1,275.2 734.1,272.8 L734.1,271.2 Q734.1,268.8 736.6,268.8 Z" fill="#141414" opacity="1.0" filter="url(#bb2)"/>
<path d="M768.7,266.0 Q777.7,267.2 786.6,266.0 Q789.1,266.0 789.1,268.5 L789.1,271.5 Q789.1,274.0 786.6,274.0 Q777.7,272.8 768.7,274.0 Q766.2,274.0 766.2,271.5 L766.2,268.5 Q766.2,266.0 768.7,266.0 Z" fill="#0e0e0e" opacity="1.0" filter="url(#bb2)"/>
<path d="M538.5,298.8 Q549.2,301.2 560.0,298.8 Q563.0,298.8 563.0,301.8 L563.0,308.2 Q563.0,311.2 560.0,311.2 Q549.2,308.8 538.5,311.2 Q535.5,311.2 535.5,308.2 L535.5,301.8 Q535.5,298.8 538.5,298.8 Z" fill="#000" opacity="1.0" filter="url(#bb3)"/>
<path d="M572.5,298.6 Q582.8,301.1 593.0,298.6 Q596.0,298.6 596.0,301.6 L596.0,308.1 Q596.0,311.1 593.0,311.1 Q582.8,308.6 572.5,311.1 Q569.5,311.1 569.5,308.1 L569.5,301.6 Q569.5,298.6 572.5,298.6 Z" fill="#000" opacity="1.0" filter="url(#bb3)"/>
<path d="M605.5,298.2 Q615.2,300.8 625.0,298.2 Q628.0,298.2 628.0,301.2 L628.0,307.8 Q628.0,310.8 625.0,310.8 Q615.2,308.2 605.5,310.8 Q602.5,310.8 602.5,307.8 L602.5,301.2 Q602.5,298.2 605.5,298.2 Z" fill="#000" opacity="1.0" filter="url(#bb3)"/>
<path d="M637.0,298.1 Q647.8,300.6 658.5,298.1 Q661.5,298.1 661.5,301.1 L661.5,307.6 Q661.5,310.6 658.5,310.6 Q647.8,308.1 637.0,310.6 Q634.0,310.6 634.0,307.6 L634.0,301.1 Q634.0,298.1 637.0,298.1 Z" fill="#000" opacity="1.0" filter="url(#bb3)"/>
<path d="M669.5,297.8 Q679.8,300.2 690.0,297.8 Q693.0,297.8 693.0,300.8 L693.0,307.2 Q693.0,310.2 690.0,310.2 Q679.8,307.8 669.5,310.2 Q666.5,310.2 666.5,307.2 L666.5,300.8 Q666.5,297.8 669.5,297.8 Z" fill="#000" opacity="1.0" filter="url(#bb3)"/>
<path d="M701.5,300.3 Q711.6,302.5 721.8,300.3 Q724.8,300.3 724.8,303.3 L724.8,308.3 Q724.8,311.3 721.8,311.3 Q711.6,309.1 701.5,311.3 Q698.5,311.3 698.5,308.3 L698.5,303.3 Q698.5,300.3 701.5,300.3 Z" fill="#000" opacity="1.0" filter="url(#bb3)"/>
<path d="M735.0,297.8 Q745.1,300.2 755.2,297.8 Q758.2,297.8 758.2,300.8 L758.2,306.8 Q758.2,309.8 755.2,309.8 Q745.1,307.4 735.0,309.8 Q732.0,309.8 732.0,306.8 L732.0,300.8 Q732.0,297.8 735.0,297.8 Z" fill="#000" opacity="1.0" filter="url(#bb3)"/>
<path d="M768.0,298.2 Q777.0,300.2 786.0,298.2 Q789.0,298.2 789.0,301.2 L789.0,305.2 Q789.0,308.2 786.0,308.2 Q777.0,306.2 768.0,308.2 Q765.0,308.2 765.0,305.2 L765.0,301.2 Q765.0,298.2 768.0,298.2 Z" fill="#080808" opacity="1.0" filter="url(#bb3)"/>
</svg>
</body></html>
